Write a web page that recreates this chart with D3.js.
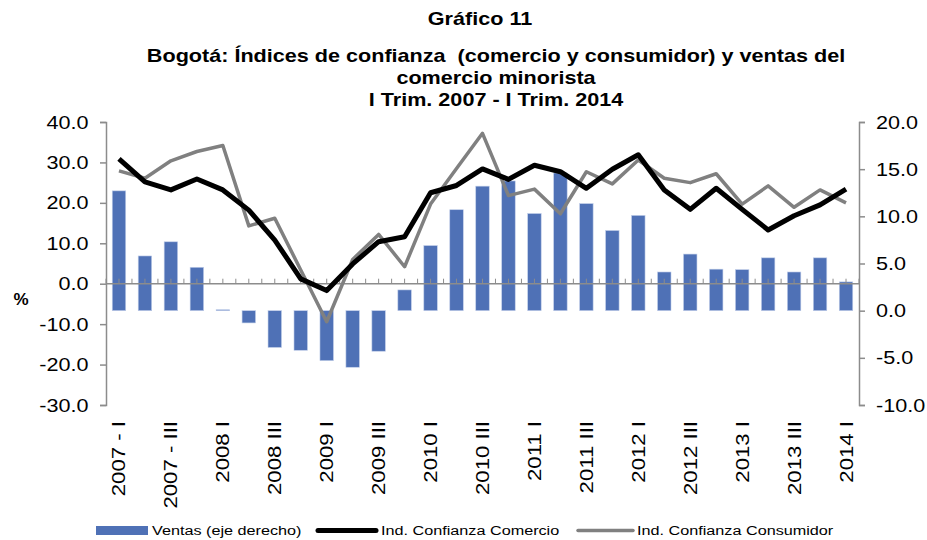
<!DOCTYPE html>
<html>
<head>
<meta charset="utf-8">
<script src="https://cdn.jsdelivr.net/npm/d3@7"></script>
<style>
  body { margin: 0; background: #fff; }
  svg { font-family: "Liberation Sans", Arial, sans-serif; }
  text { white-space: pre; }
</style>
</head>
<body>
<div id="chart"></div>
<script>
// Quarters, I Trim. 2007 - I Trim. 2014 (only every other one is labelled).
const quarters = [
  "2007 - I", "2007 - II", "2007 - III", "2007 - IV",
  "2008 I", "2008 II", "2008 III", "2008 IV",
  "2009 I", "2009 II", "2009 III", "2009 IV",
  "2010 I", "2010 II", "2010 III", "2010 IV",
  "2011 I", "2011 II", "2011 III", "2011 IV",
  "2012 I", "2012 II", "2012 III", "2012 IV",
  "2013 I", "2013 II", "2013 III", "2013 IV",
  "2014 I",
];

// Ventas del comercio minorista (eje derecho).
const ventas = [
  12.7, 5.8, 7.3, 4.6, 0.1, -1.3, -3.9, -4.2, -5.3, -6.0,
  -4.3, 2.2, 6.9, 10.7, 13.2, 13.75, 10.3, 14.6, 11.35, 8.5,
  10.1, 4.1, 6.0, 4.4, 4.35, 5.6, 4.1, 5.6, 3.05,
];

// Ind. Confianza Comercio (eje izquierdo).
const comercio = [
  30.9, 25.2, 23.2, 25.9, 23.2, 18.2, 10.8, 1.2, -1.7, 4.9,
  10.4, 11.6, 22.5, 24.3, 28.4, 25.8, 29.3, 27.7, 23.6, 28.3,
  31.9, 23.2, 18.4, 23.6, 18.4, 13.3, 16.8, 19.5, 23.4,
];

// Ind. Confianza Consumidor (eje izquierdo).
const consumidor = [
  27.9, 26.1, 30.4, 32.7, 34.2, 14.3, 16.2, 3.4, -9.4, 6.0,
  12.2, 4.2, 19.7, 28.5, 37.2, 21.8, 23.4, 17.3, 27.7, 24.7,
  30.6, 26.1, 25.0, 27.2, 19.7, 24.2, 18.9, 23.2, 20.0,
];

const leftTicks = [-30, -20, -10, 0, 10, 20, 30, 40];
const rightTicks = [-10, -5, 0, 5, 10, 15, 20];

const titleLines = [
  "Gráfico 11",
  "Bogotá: Índices de confianza  (comercio y consumidor) y ventas del",
  "comercio minorista",
  "I Trim. 2007 - I Trim. 2014",
];

const width = 927;
const height = 540;
const margin = { top: 122, right: 68, bottom: 135, left: 106 };

// The source font runs wider than Arial; stretch text along its baseline.
const stretch = 1.2;

const axisColor = "#8c8c8c";
const barColor = "#4f71b6";

// Plain hyphen for negatives, as in the source.
const fmt = d => d.toFixed(1);

const svg = d3.select("#chart")
  .append("svg")
    .attr("width", width)
    .attr("height", height);

const x = d3.scaleBand()
  .domain(d3.range(quarters.length))
  .range([margin.left, width - margin.right])
  .paddingInner(0.48)
  .paddingOuter(0.24);

const yLeft = d3.scaleLinear()
  .domain([-30, 40])
  .range([height - margin.bottom, margin.top]);

const yRight = d3.scaleLinear()
  .domain([-10, 20])
  .range([height - margin.bottom, margin.top]);

const cx = i => x(i) + x.bandwidth() / 2;

// Title block.
svg.append("g")
  .attr("font-weight", "bold")
  .attr("font-size", 18)
  .attr("text-anchor", "middle")
  .selectAll("text")
  .data(titleLines)
  .join("text")
    .attr("transform", (d, i) =>
      `translate(${i === 0 ? 480 : 496},${[25, 62, 84, 106][i]}) scale(${stretch},1)`)
    .text(d => d);

// Bars (right axis), drawn from right-axis zero.
svg.append("g")
  .selectAll("rect")
  .data(ventas)
  .join("rect")
    .attr("x", (d, i) => x(i))
    .attr("width", x.bandwidth())
    .attr("y", d => yRight(Math.max(0, d)))
    .attr("height", d => Math.max(0.6, Math.abs(yRight(d) - yRight(0))))
    .attr("fill", barColor)
    .attr("stroke", "#c3d0ea")
    .attr("stroke-width", 0.6);

// Category axis at left-axis zero, ticks every half band.
const y0 = yLeft(0);
const step = x.step();
const axisG = svg.append("g").attr("stroke", axisColor);
axisG.append("line")
  .attr("x1", margin.left).attr("x2", width - margin.right)
  .attr("y1", y0).attr("y2", y0)
  .attr("stroke-width", 1.5);
axisG.selectAll("line.tick")
  .data(d3.range(quarters.length * 2 + 1))
  .join("line")
    .attr("class", "tick")
    .attr("x1", k => margin.left + k * step / 2)
    .attr("x2", k => margin.left + k * step / 2)
    .attr("y1", y0 - 5)
    .attr("y2", y0);

// Lines.
const line = d3.line()
  .x((d, i) => cx(i))
  .y(d => yLeft(d));

svg.append("path")
  .datum(consumidor)
  .attr("fill", "none")
  .attr("stroke", "#808080")
  .attr("stroke-width", 3.5)
  .attr("stroke-linejoin", "round")
  .attr("d", line);

svg.append("path")
  .datum(comercio)
  .attr("fill", "none")
  .attr("stroke", "#000")
  .attr("stroke-width", 5)
  .attr("stroke-linejoin", "round")
  .attr("d", line);

// Left axis.
const leftAxis = svg.append("g")
  .attr("transform", `translate(${margin.left},0)`)
  .call(d3.axisLeft(yLeft).tickValues(leftTicks).tickFormat(fmt)
    .tickSize(6).tickSizeOuter(6));

// Right axis.
const rightAxis = svg.append("g")
  .attr("transform", `translate(${width - margin.right},0)`)
  .call(d3.axisRight(yRight).tickValues(rightTicks).tickFormat(fmt)
    .tickSize(6).tickSizeOuter(6));

[leftAxis, rightAxis].forEach(g => {
  g.selectAll("path, line").attr("stroke", axisColor).attr("stroke-width", 1.5);
  g.selectAll("text")
    .attr("font-size", 18)
    .attr("fill", "#000")
    .attr("font-family", "Liberation Sans, Arial, sans-serif")
    .attr("dy", "0.34em")
    .attr("transform", `scale(${stretch},1)`);
});
leftAxis.selectAll("text").attr("x", -17.5 / stretch);
rightAxis.selectAll("text").attr("x", 17 / stretch);

// "%" label.
svg.append("text")
  .attr("x", 21)
  .attr("y", 305)
  .attr("text-anchor", "middle")
  .attr("font-size", 17)
  .attr("font-weight", "bold")
  .text("%");

// Category labels, rotated, every other quarter.
svg.append("g")
  .attr("font-size", 18.5)
  .selectAll("text")
  .data(quarters.map((q, i) => ({ q, i })).filter(d => d.i % 2 === 0))
  .join("text")
    .attr("transform", d =>
      `translate(${cx(d.i) + 6.5},421) rotate(-90) scale(${stretch},1)`)
    .attr("text-anchor", "end")
    .text(d => d.q);

// Legend.
const legend = svg.append("g").attr("font-size", 13.5);
const legendText = (x0, label) => legend.append("text")
  .attr("transform", `translate(${x0},535) scale(${stretch},1)`)
  .text(label);

legend.append("rect")
  .attr("x", 96).attr("y", 526)
  .attr("width", 52).attr("height", 9)
  .attr("fill", barColor);
legendText(152, "Ventas (eje derecho)");

legend.append("line")
  .attr("x1", 318).attr("x2", 376)
  .attr("y1", 530.5).attr("y2", 530.5)
  .attr("stroke", "#000").attr("stroke-width", 5)
  .attr("stroke-linecap", "round");
legendText(381, "Ind. Confianza Comercio");

legend.append("line")
  .attr("x1", 578).attr("x2", 633)
  .attr("y1", 530.5).attr("y2", 530.5)
  .attr("stroke", "#808080").attr("stroke-width", 3.5)
  .attr("stroke-linecap", "round");
legendText(637, "Ind. Confianza Consumidor");
</script>
</body>
</html>
